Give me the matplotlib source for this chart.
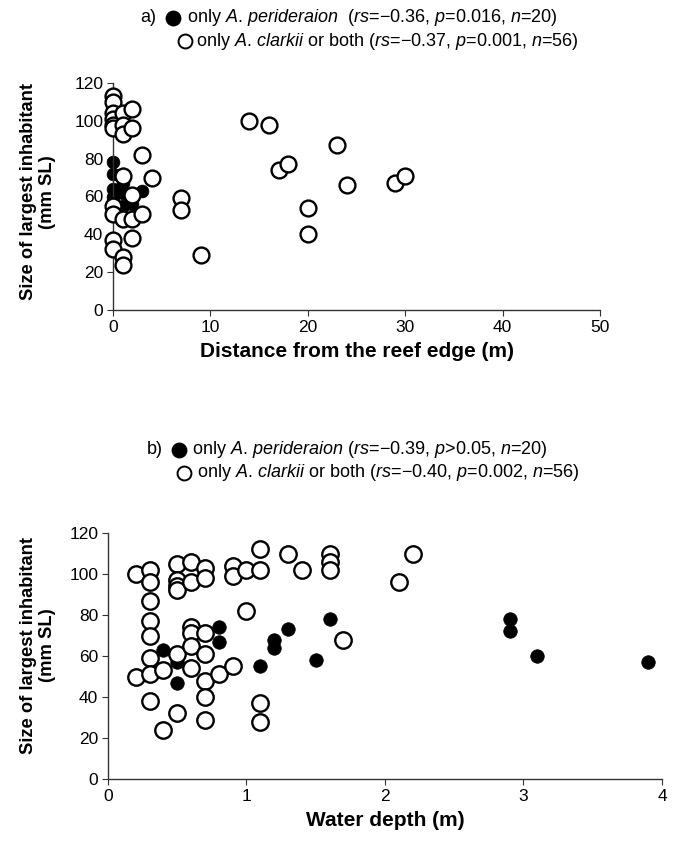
import matplotlib
matplotlib.use("Agg")
import matplotlib.pyplot as plt
from matplotlib.lines import Line2D

plt.rcParams['font.family'] = ['Liberation Sans', 'DejaVu Sans']
plt.rcParams['mathtext.fontset'] = 'custom'
plt.rcParams['mathtext.rm'] = 'Liberation Sans'
plt.rcParams['mathtext.it'] = 'Liberation Sans:italic'
plt.rcParams['mathtext.bf'] = 'Liberation Sans:bold'

# panel a: distance from the reef edge (m) vs size of largest inhabitant (mm SL)
dist_perid = [0, 0, 0, 0, 0, 1, 1, 1, 1, 2, 3, 1]
size_perid = [78, 72, 64, 60, 57, 72, 67, 55, 47, 56, 63, 62]

dist_clark = [0, 0, 0, 0, 0, 0, 0, 0, 0, 0,
              1, 1, 1, 1, 1, 1, 1,
              2, 2, 2, 2, 2,
              3, 3, 4, 7, 7, 9,
              14, 16, 17, 18, 20, 20, 23, 24, 29, 30]
size_clark = [113, 110, 104, 101, 98, 96, 55, 51, 37, 32,
              104, 98, 93, 71, 48, 28, 24,
              106, 96, 61, 48, 38,
              82, 51, 70, 59, 53, 29,
              100, 98, 74, 77, 54, 40, 87, 66, 67, 71]

# panel b: water depth (m) vs size of largest inhabitant (mm SL)
depth_perid = [0.4, 0.5, 0.5, 0.8, 0.8, 1.1, 1.2, 1.2, 1.3, 1.5, 1.6, 2.9, 2.9, 3.1, 3.9]
sizeb_perid = [63, 57, 47, 74, 67, 55, 68, 64, 73, 58, 78, 78, 72, 60, 57]

depth_clark = [0.2, 0.2,
               0.3, 0.3, 0.3, 0.3, 0.3, 0.3, 0.3, 0.3,
               0.4, 0.4,
               0.5, 0.5, 0.5, 0.5, 0.5, 0.5,
               0.6, 0.6, 0.6, 0.6, 0.6, 0.6,
               0.7, 0.7, 0.7, 0.7, 0.7, 0.7, 0.7,
               0.8, 0.9, 0.9, 0.9, 1.0, 1.0,
               1.1, 1.1, 1.1, 1.1,
               1.3, 1.4, 1.6, 1.6, 1.6, 1.7, 2.1, 2.2]
sizeb_clark = [100, 50,
               102, 96, 87, 77, 70, 59, 51, 38,
               53, 24,
               105, 97, 94, 92, 61, 32,
               106, 96, 74, 71, 65, 54,
               103, 98, 71, 61, 48, 40, 29,
               51, 104, 99, 55, 102, 82,
               112, 102, 37, 28,
               110, 102, 110, 106, 102, 68, 96, 110]

legend_a = [r"only $\it{A.\,perideraion}$  ($\it{rs}$=−0.36, $\it{p}$=0.016, $\it{n}$=20)",
            r"only $\it{A.\,clarkii}$ or both ($\it{rs}$=−0.37, $\it{p}$=0.001, $\it{n}$=56)"]
legend_b = [r"only $\it{A.\,perideraion}$ ($\it{rs}$=−0.39, $\it{p}$>0.05, $\it{n}$=20)",
            r"only $\it{A.\,clarkii}$ or both ($\it{rs}$=−0.40, $\it{p}$=0.002, $\it{n}$=56)"]

ylab = "Size of largest inhabitant\n(mm SL)"

W, H = 682, 848
fig = plt.figure(figsize=(W / 100, H / 100), dpi=100)


def px_axes(x0, y0, x1, y1):
    # pixel box (left, top, right, bottom) -> figure axes
    return fig.add_axes([x0 / W, 1 - y1 / H, (x1 - x0) / W, (y1 - y0) / H])


def style(ax):
    for s in ['top', 'right']:
        ax.spines[s].set_visible(False)
    for s in ['left', 'bottom']:
        ax.spines[s].set_color('#333333')
        ax.spines[s].set_linewidth(1.0)
    ax.tick_params(direction='out', length=4, width=0.8, color='#333333',
                   labelsize=12.5, pad=3)


def scatter(ax, xf, yf, xo, yo, s_open=140, s_fill=95):
    ax.scatter(xf, yf, s=s_fill, c='black', edgecolors='black', linewidths=0.5,
               zorder=2, clip_on=False)
    ax.scatter(xo, yo, s=s_open, facecolors='white', edgecolors='black',
               linewidths=1.7, zorder=3, clip_on=False)


def key_line(x_lab, lab, x_mark, filled, x_text, y, text):
    yf = 1 - y / H
    if lab:
        fig.text(x_lab / W, yf, lab, ha='left', va='center', fontsize=13)
    fig.add_artist(Line2D([x_mark / W], [yf], marker='o', markersize=10,
                          markerfacecolor='black' if filled else 'white',
                          markeredgecolor='black', markeredgewidth=1.4,
                          transform=fig.transFigure))
    fig.text(x_text / W, yf, text, ha='left', va='center', fontsize=13)


axa = px_axes(113, 83, 600, 310)
scatter(axa, dist_perid, size_perid, dist_clark, size_clark, s_open=130, s_fill=85)
axa.set_xlim(0, 50)
axa.set_ylim(0, 120)
axa.set_xticks(range(0, 51, 10))
axa.set_yticks(range(0, 121, 20))
style(axa)
axa.set_xlabel("Distance from the reef edge (m)", fontsize=15, fontweight='bold', labelpad=5)

axb = px_axes(108, 533, 662, 779)
scatter(axb, depth_perid, sizeb_perid, depth_clark, sizeb_clark)
axb.set_xlim(0, 4)
axb.set_ylim(0, 120)
axb.set_xticks(range(0, 5))
axb.set_yticks(range(0, 121, 20))
style(axb)
axb.set_xlabel("Water depth (m)", fontsize=15, fontweight='bold', labelpad=5)

fig.text(38 / W, 1 - 192 / H, ylab, rotation=90, ha='center', va='center',
         multialignment='center', fontsize=13.2, fontweight='bold')
fig.text(38 / W, 1 - 645 / H, ylab, rotation=90, ha='center', va='center',
         multialignment='center', fontsize=13.2, fontweight='bold')

key_line(140, "a)", 173, True, 187, 18, legend_a[0])
key_line(None, None, 185, False, 196, 41, legend_a[1])
key_line(147, "b)", 179, True, 192, 450, legend_b[0])
key_line(None, None, 184, False, 197, 473, legend_b[1])

fig.savefig("out.png", dpi=100, facecolor='white')
